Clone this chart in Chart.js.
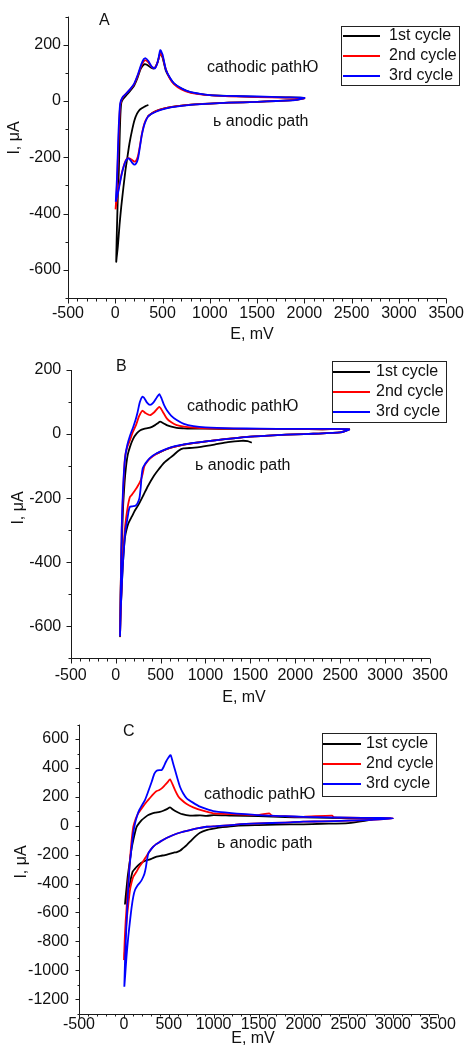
<!DOCTYPE html>
<html><head><meta charset="utf-8">
<script src="https://cdn.jsdelivr.net/npm/chart.js@4.4.0/dist/chart.umd.min.js"></script>
<style>
html,body{margin:0;padding:0;background:#fff;width:470px;height:1057px;overflow:hidden}
canvas{position:absolute;left:0}
</style></head><body>
<canvas id="cA" width="470" height="345" style="top:0px"></canvas>
<canvas id="cB" width="470" height="360" style="top:345px"></canvas>
<canvas id="cC" width="470" height="352" style="top:705px"></canvas>
<script>
// ---------- tick labels ----------
const X_TICKS = [-500, 0, 500, 1000, 1500, 2000, 2500, 3000, 3500];
const Y_TICKS_A = [-600, -400, -200, 0, 200];
const Y_TICKS_B = [-600, -400, -200, 0, 200];
const Y_TICKS_C = [-1200, -1000, -800, -600, -400, -200, 0, 200, 400, 600];
const SERIES_NAMES = ['1st cycle', '2nd cycle', '3rd cycle'];

// ---------- Panel A ----------
const A1_E = [350,320,290,255,230,203,180,150,128,108,85,63,45,27,15,10, 14,20,28,38,45,52,62,80,120,150,200,237,270,308,340,380,413,445,476,500,535,580,622,700,800,1000,1200,1500,1800,2000, 1900,1700,1500,1200,1000,850,700,600,500,430,380,345];
const A1_I = [-14,-18,-24,-32,-45,-68,-100,-151,-200,-245,-310,-376,-440,-518,-555,-571, -500,-423,-330,-245,-150,-67,-10,6,22,33,55,84,115,131,128,118,116,135,170,155,108,80,62,44,31,21,18,15,13,11, 4,0,-3,-6,-9,-12,-16,-21,-28,-36,-45,-55];
const A2_E = [3,15,25,38,52,80,120,160,200,240,275,315,350,390,420,450,478,500,530,570,620,700,800,950,1200,1500,1800,2000, 1900,1700,1500,1200,1000,850,700,600,500,430,380,345,320,300,280,260,240,220,200,180,160,140,125,110,90,70,50,30,15,5,3];
const A2_I = [-385,-320,-230,-110,-15,14,28,42,60,92,125,145,137,120,118,140,170,158,118,84,60,41,29,22,17,14,12,10, 4,0,-3,-6,-9,-12,-16,-21,-28,-36,-45,-55,-70,-90,-120,-160,-195,-212,-215,-210,-205,-203,-205,-212,-230,-255,-285,-320,-355,-380,-385];
const A3_E = [5,14,21,35,52,80,120,160,200,240,275,300,320,350,385,420,450,476,500,535,580,622,700,780,900,1000,1200,1500,1800,2000, 1900,1700,1500,1200,1000,850,700,600,500,430,380,345,320,300,280,260,240,220,200,180,160,140,125,110,90,70,50,30,15,5];
const A3_I = [-358,-300,-245,-103,-8,15,28,43,62,95,130,148,152,142,122,116,140,181,165,112,82,63,45,33,25,21,18,16,13,11, 3,0,-3,-6,-9,-12,-17,-22,-30,-38,-46,-56,-72,-92,-122,-165,-205,-222,-226,-220,-210,-204,-206,-214,-232,-257,-290,-325,-345,-358];

// ---------- Panel B ----------
const B1_E = [1516,1470,1400,1250,1100,950,850,754,700,643,590,531,480,420,360,309,260,216,180,142,120,105,92,79,68,57,49, 55,65,75,85,100,116,135,160,195,235,275,316,383,439,470,495,530,569,620,680,760,866,1000,1300,1600,2000,2300,2600, 2500,2200,2000,1800,1500,1127,829,606,458];
const B1_I = [-27,-22,-21,-25,-33,-40,-43,-45,-52,-66,-78,-92,-110,-133,-162,-191,-218,-238,-258,-279,-300,-321,-360,-415,-480,-550,-631, -500,-380,-290,-217,-150,-102,-65,-40,-15,2,12,16,20,28,34,39,34,28,23,19,18,17,17,16,16,16,15,15, 5,1,-1,-3,-8,-19,-30,-43,-61];
const B2_E = [49,60,68,80,92,105,130,160,190,227,260,298,330,383,430,487,520,569,620,680,760,866,1000,1311,1600,2000,2300,2600, 2500,2200,2000,1800,1500,1127,829,606,458,380,347,320,302,285,270,253,230,205,180,160,145,135,120,105,92,79,68,57,49];
const B2_I = [-631,-420,-300,-206,-130,-71,-40,-19,5,28,55,73,66,59,68,85,72,49,37,28,23,20,18,17,16,16,15,15, 5,1,-1,-3,-8,-19,-30,-43,-61,-77,-88,-100,-123,-140,-150,-159,-170,-180,-190,-196,-212,-227,-255,-290,-340,-394,-470,-550,-631];
const B3_E = [49,58,68,80,94,110,130,160,197,220,242,270,298,320,350,383,420,460,487,510,540,569,620,680,760,866,1000,1311,1600,2000,2300,2600, 2500,2200,2000,1800,1500,1127,829,606,458,380,347,320,302,290,280,265,242,220,197,180,160,145,135,120,105,92,79,68,57,49];
const B3_I = [-631,-480,-290,-190,-112,-65,-34,-5,23,42,65,100,117,112,98,91,98,115,125,112,90,75,57,44,32,25,21,18,17,16,16,15, 5,1,-1,-3,-8,-19,-29,-42,-60,-75,-86,-97,-107,-130,-165,-200,-217,-224,-225,-226,-227,-240,-258,-282,-310,-360,-415,-480,-550,-631];

// ---------- Panel C ----------
const C1_E = [12,20,31,45,68,85,105,125,142,170,198,235,272,310,347,400,439,480,514,550,588,650,736,850,922,1000,1200,1500,1800,2000,2300,2500,2817, 2500,2200,2000,1700,1500,1250,1100,1000,920,848,800,755,700,660,625,590,550,500,458,410,365,330,291,250,216,180,142,120,98,80,68,50,38,25,16];
const C1_I = [-545,-490,-422,-340,-237,-160,-99,-45,-7,18,39,58,74,84,90,96,104,115,127,110,97,80,70,72,68,74,70,66,60,58,55,52,50, 18,14,10,8,5,0,-10,-20,-30,-48,-72,-99,-134,-155,-173,-182,-187,-196,-203,-208,-214,-222,-233,-240,-249,-262,-284,-300,-318,-360,-399,-440,-468,-505,-533];
const C2_E = [1,10,20,31,45,68,85,105,130,160,200,254,290,328,365,395,425,458,485,514,540,570,605,644,700,773,880,996,1200,1500,1620,1650,1800,2000,2320,2340,2500,2800,3000, 2800,2500,2200,2000,1800,1500,1250,1000,922,830,736,640,550,475,402,360,328,300,272,248,224,200,172,140,105,85,68,50,31,15,3,1];
const C2_I = [-930,-780,-660,-561,-420,-237,-110,-7,45,86,122,166,192,219,240,247,260,282,300,321,290,247,205,178,150,127,104,86,80,74,86,70,66,62,70,58,56,54,52, 42,35,30,28,22,16,8,-5,-7,-17,-30,-45,-64,-85,-111,-127,-145,-165,-191,-214,-237,-260,-284,-318,-353,-395,-445,-540,-653,-780,-883,-930];
const C3_E = [5,12,23,35,49,65,87,105,124,150,172,200,235,270,310,340,365,395,421,445,469,495,521,545,570,600,625,660,700,770,848,940,1034,1200,1500,1800,2000,2300,2500,2800,3000, 2800,2500,2200,2000,1800,1500,1250,1000,922,830,736,640,550,475,402,360,328,300,272,258,246,230,216,195,172,150,124,105,87,68,49,30,16,5];
const C3_I = [-1114,-950,-768,-600,-422,-270,-145,-50,16,75,109,140,178,235,305,360,381,385,385,410,443,470,489,440,385,320,270,225,190,160,132,112,97,88,74,66,62,58,56,54,52, 42,35,30,28,22,16,8,-5,-7,-17,-30,-45,-64,-85,-111,-127,-145,-165,-191,-235,-284,-330,-353,-380,-399,-415,-445,-490,-561,-660,-768,-900,-1022,-1114];

const COLORS = ['#000000', '#ff0000', '#0000ff'];
const FONT = '"Liberation Sans", Arial, Helvetica, sans-serif';
Chart.defaults.font.family = FONT;
Chart.defaults.font.size = 16;
Chart.defaults.color = '#111';

function pts(E, I) { return E.map((e, k) => ({x: e, y: I[k]})); }

const decor = {
  id: 'decor',
  afterDraw(chart) {
    const o = chart.options.plugins.decor;
    const {ctx, chartArea: ca, scales: {x, y}} = chart;
    ctx.save();
    ctx.strokeStyle = '#1a1a1a';
    ctx.lineWidth = 1;
    ctx.beginPath();
    const L = Math.round(ca.left) + 0.5, B = Math.round(ca.bottom) + 0.5;
    ctx.moveTo(L, ca.top); ctx.lineTo(L, B); ctx.lineTo(ca.right, B);
    for (let v = x.min; v <= x.max + 1e-6; v += 100) {
      const px = Math.round(x.getPixelForValue(v)) + 0.5;
      const len = (Math.round(v) % 500 === 0) ? o.tmaj : o.tmin;
      ctx.moveTo(px, B); ctx.lineTo(px, B + len);
    }
    for (let v = y.min; v <= y.max + 1e-6; v += 100) {
      const py = Math.round(y.getPixelForValue(v)) + 0.5;
      const len = (Math.round(v) % 200 === 0) ? o.tmaj : o.tmin;
      ctx.moveTo(L, py); ctx.lineTo(L - len, py);
    }
    ctx.stroke();
    // texts
    ctx.fillStyle = '#111';
    ctx.font = '16px ' + FONT;
    ctx.textBaseline = 'middle';
    ctx.textAlign = 'left';
    ctx.fillText(o.letter[0], o.letter[1], o.letter[2]);
    ctx.fillText('cathodic pathЮ', o.cath[0], o.cath[1]);
    ctx.fillText('ь anodic path', o.anod[0], o.anod[1]);
    ctx.textAlign = 'center';
    ctx.fillText('E, mV', o.xt[0], o.xt[1]);
    ctx.save();
    ctx.translate(o.yt[0], o.yt[1]);
    ctx.rotate(-Math.PI / 2);
    ctx.fillText('I, μA', 0, 0);
    ctx.restore();
    // legend
    const lg = o.legend;
    ctx.strokeStyle = '#222';
    ctx.lineWidth = 1;
    ctx.strokeRect(lg.x + 0.5, lg.y + 0.5, lg.w, lg.h);
    ctx.textAlign = 'left';
    SERIES_NAMES.forEach((name, k) => {
      const ry = lg.y + lg.r0 + k * 20;
      ctx.strokeStyle = COLORS[k];
      ctx.lineWidth = 1.8;
      ctx.beginPath(); ctx.moveTo(lg.l0, ry); ctx.lineTo(lg.l1, ry); ctx.stroke();
      ctx.fillText(name, lg.tx, ry);
    });
    ctx.restore();
  }
};

function makeChart(id, series, yMin, yMax, yTicks, lay) {
  const datasets = series.map((s, k) => ({
    label: SERIES_NAMES[k],
    data: pts(s[0], s[1]),
    showLine: true,
    borderColor: COLORS[k],
    borderWidth: 1.8,
    pointRadius: 0,
    tension: 0.2,
    fill: false,
    order: 3 - k
  }));
  return new Chart(document.getElementById(id), {
    type: 'scatter',
    data: {datasets},
    plugins: [decor],
    options: {
      responsive: false,
      animation: false,
      events: [],
      layout: {padding: {left: 0, right: lay.padR, top: lay.padT, bottom: 0}},
      plugins: {legend: {display: false}, tooltip: {enabled: false}, decor: lay.decor},
      scales: {
        x: {
          type: 'linear', min: -500, max: 3500,
          afterBuildTicks: s => { s.ticks = X_TICKS.map(v => ({value: v})); },
          afterFit: s => { s.height = lay.xH; },
          grid: {display: false, drawTicks: false},
          border: {display: false},
          ticks: {autoSkip: false, maxRotation: 0, minRotation: 0, padding: lay.xPad, callback: v => String(v)}
        },
        y: {
          type: 'linear', min: yMin, max: yMax,
          afterBuildTicks: s => { s.ticks = yTicks.map(v => ({value: v})); },
          afterFit: s => { s.width = lay.yW; },
          grid: {display: false, drawTicks: false},
          border: {display: false},
          ticks: {autoSkip: false, padding: lay.yPad, callback: v => String(v)}
        }
      }
    }
  });
}

makeChart('cA', [[A1_E, A1_I], [A2_E, A2_I], [A3_E, A3_I]], -700, 300, Y_TICKS_A, {
  padR: 21, padT: 16, xH: 47, yW: 68, xPad: 6, yPad: 7,
  decor: {tmaj: 5, tmin: 3, letter: ['A', 99, 21], cath: [207, 68], anod: [213, 122], xt: [252, 335], yt: [15, 138],
    legend: {x: 341, y: 26, w: 118, h: 59, r0: 10, l0: 343, l1: 380, tx: 389}}
});
makeChart('cB', [[B1_E, B1_I], [B2_E, B2_I], [B3_E, B3_I]], -700, 200, Y_TICKS_B, {
  padR: 40, padT: 25, xH: 46.7, yW: 70.7, xPad: 8, yPad: 9.5,
  decor: {tmaj: 5, tmin: 3, letter: ['B', 116, 22], cath: [187, 62], anod: [195, 121], xt: [244, 353], yt: [19, 163],
    legend: {x: 332, y: 16, w: 114, h: 61, r0: 11, l0: 333, l1: 370, tx: 376}}
});
makeChart('cC', [[C1_E, C1_I], [C2_E, C2_I], [C3_E, C3_I]], -1300, 700, Y_TICKS_C, {
  padR: 32, padT: 19, xH: 43.4, yW: 79, xPad: 1, yPad: 10,
  decor: {tmaj: 4, tmin: 2, letter: ['C', 123, 27], cath: [204, 90], anod: [217, 139], xt: [253, 334], yt: [22, 157],
    legend: {x: 322, y: 28, w: 114, h: 63, r0: 11, l0: 323, l1: 361, tx: 366}}
});
</script>
</body></html>
